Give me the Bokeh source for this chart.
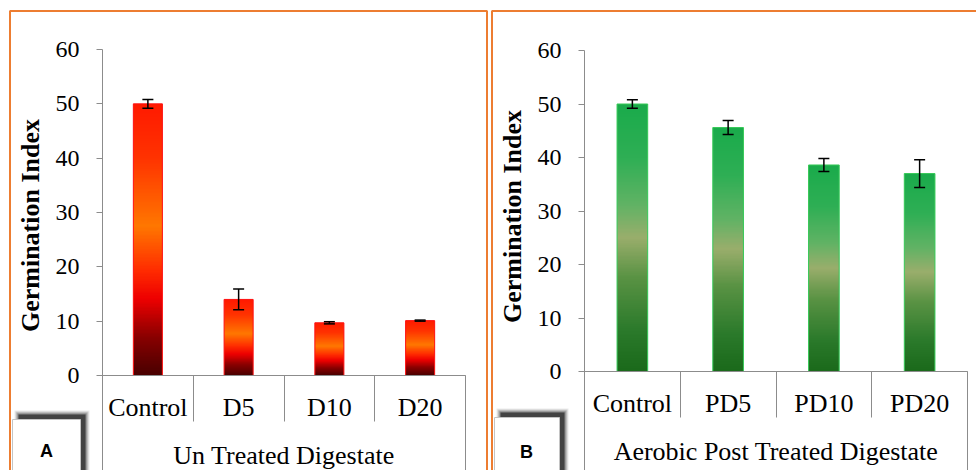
import numpy as np
from bokeh.plotting import figure
from bokeh.models import (ColumnDataSource, FixedTicker, Whisker, TeeHead,
                          BoxAnnotation, Label, LinearAxis, Range1d)
from bokeh.layouts import row
from bokeh.embed import file_html
from bokeh.resources import INLINE

# ---- data -------------------------------------------------------------
categories_a = ["Control", "D5", "D10", "D20"]
gi_a = [50.0, 14.0, 9.7, 10.1]
err_a = [0.8, 1.9, 0.2, 0.1]
group_a = "Un Treated Digestate"

categories_b = ["Control", "PD5", "PD10", "PD20"]
gi_b = [50.0, 45.6, 38.6, 37.0]
err_b = [0.8, 1.3, 1.2, 2.6]
group_b = "Aerobic Post Treated Digestate"

y_ticks = [0, 10, 20, 30, 40, 50, 60]
y_title = "Germination Index"

# ---- styling ------------------------------------------------------------
SERIF = "Liberation Serif"
AXIS_GREY = "#8c8c8c"
ORANGE = "#ED7D31"
BAR_WIDTH = 0.32
SEP_LEN = 46      # separator length below the category axis
HEIGHT = 470

RED_STOPS = [(0.0, "#ff1a00"), (0.2, "#ff3300"), (0.45, "#ff7800"),
             (0.62, "#ff2a00"), (0.72, "#ee0000"), (0.86, "#8a0000"),
             (1.0, "#4a0000")]
GREEN_STOPS = [(0.0, "#1aab4b"), (0.2, "#2faf55"), (0.38, "#62b365"),
               (0.5, "#9aae6c"), (0.65, "#5a9344"), (0.85, "#2b7a2b"),
               (1.0, "#1b6a1b")]


def gradient_image(stops, n=200):
    """Vertical colour ramp as an (n, 1) RGBA image, row 0 at the bottom."""
    pos = np.array([s[0] for s in stops])
    rgb = np.array([[int(h[i:i + 2], 16) for i in (1, 3, 5)] for _, h in stops], float)
    frac_from_top = np.linspace(1.0, 0.0, n)
    img = np.empty((n, 1), dtype=np.uint32)
    view = img.view(dtype=np.uint8).reshape((n, 1, 4))
    for c in range(3):
        view[:, 0, c] = np.interp(frac_from_top, pos, rgb[:, c]).astype(np.uint8)
    view[:, 0, 3] = 255
    return img


def screen_box(left, right, top, bottom, **kw):
    """Box given in canvas pixels (y downwards), drawn in frame screen units."""
    return BoxAnnotation(left=left, right=right, top=HEIGHT - top, bottom=HEIGHT - bottom,
                         left_units="screen", right_units="screen",
                         top_units="screen", bottom_units="screen", **kw)


def panel(cats, vals, errs, group, stops, edge_color, width,
          plot_l, plot_r, plot_t, plot_b, title_low, frame_lr, tag, tag_box, tag_xy):
    n = len(cats)
    # the frame fills the whole canvas; ranges are set so that the category
    # span [0, n] and value span [0, 60] land on the plot rectangle
    sx = (plot_r - plot_l) / n
    sy = (plot_b - plot_t) / 60.0
    x_range = Range1d(-plot_l / sx, n + (width - plot_r) / sx)
    y_range = Range1d(-(HEIGHT - plot_b) / sy, 60 + plot_t / sy)
    p = figure(width=width, height=HEIGHT, output_backend="svg",
               toolbar_location=None, x_range=x_range, y_range=y_range,
               min_border=0)
    p.outline_line_color = None
    p.xgrid.grid_line_color = None
    p.ygrid.grid_line_color = None

    centers = [i + 0.5 for i in range(n)]
    upper = [v + e for v, e in zip(vals, errs)]
    lower = [v - e for v, e in zip(vals, errs)]

    img = gradient_image(stops)
    p.image_rgba(image=[img] * n, x=[c - BAR_WIDTH / 2 for c in centers], y=[0] * n,
                 dw=[BAR_WIDTH] * n, dh=vals)
    p.vbar(x=centers, top=vals, bottom=0, width=BAR_WIDTH, fill_color=None,
           line_color=edge_color, line_width=1)

    src = ColumnDataSource(dict(x=centers, upper=upper, lower=lower))
    p.add_layout(Whisker(source=src, base="x", upper="upper", lower="lower",
                         level="annotation", line_color="black", line_width=1.5,
                         upper_head=TeeHead(size=11, line_color="black", line_width=1.5),
                         lower_head=TeeHead(size=11, line_color="black", line_width=1.5)))

    ya = p.yaxis[0]
    ya.fixed_location = 0
    ya.bounds = (title_low, 60)
    ya.ticker = FixedTicker(ticks=y_ticks)
    ya.axis_line_color = AXIS_GREY
    ya.major_tick_line_color = AXIS_GREY
    ya.major_tick_out = 6
    ya.major_tick_in = 0
    ya.minor_tick_line_color = None
    ya.major_label_text_font = SERIF
    ya.major_label_text_font_size = "24px"
    ya.major_label_text_color = "black"
    ya.major_label_standoff = 17
    ya.axis_label = y_title
    ya.axis_label_text_font = SERIF
    ya.axis_label_text_font_style = "bold"
    ya.axis_label_text_font_size = "26px"
    ya.axis_label_text_color = "black"
    ya.axis_label_standoff = 8

    xa = p.xaxis[0]
    xa.fixed_location = 0
    xa.bounds = (0, n)
    xa.ticker = FixedTicker(ticks=centers, minor_ticks=list(range(n + 1)))
    xa.major_label_overrides = {c: name for c, name in zip(centers, cats)}
    xa.axis_line_color = AXIS_GREY
    xa.major_tick_line_color = None
    xa.major_tick_out = 0
    xa.major_tick_in = 0
    xa.minor_tick_line_color = AXIS_GREY
    xa.minor_tick_out = SEP_LEN
    xa.minor_tick_in = 0
    xa.major_label_text_font = SERIF
    xa.major_label_text_font_size = "26px"
    xa.major_label_text_color = "black"
    xa.major_label_standoff = 17 - SEP_LEN

    # group level: outer boundary lines down to the bottom and the group name
    outer = HEIGHT - plot_b + 10
    ga = LinearAxis(fixed_location=0, bounds=(0, n),
                    ticker=FixedTicker(ticks=[], minor_ticks=[0, n]),
                    axis_line_color=None, major_tick_line_color=None,
                    major_tick_out=0, major_tick_in=0, major_label_standoff=0,
                    minor_tick_line_color=AXIS_GREY, minor_tick_out=outer, minor_tick_in=0,
                    axis_label=group, axis_label_text_font=SERIF,
                    axis_label_text_font_size="26px", axis_label_text_color="black",
                    axis_label_text_font_style="normal", axis_label_standoff=65 - outer)
    p.add_layout(ga, "below")

    # orange panel frame
    fl, fr = frame_lr
    p.add_layout(screen_box(fl, fr, 10.5, HEIGHT + 40, fill_color=None,
                            line_color=ORANGE, line_alpha=1.0, line_width=2))

    # panel tag with a soft dark shadow towards the upper right
    tl, tr, tt = tag_box
    for grow, alpha in [(4, 0.08), (3, 0.12), (2, 0.16), (1, 0.22), (0, 0.5)]:
        p.add_layout(screen_box(tl + 6 - grow, tr + 5 + grow, tt - 5 - grow, HEIGHT + 20,
                                fill_color="black", fill_alpha=alpha, line_color=None))
    p.add_layout(screen_box(tl, tr, tt, HEIGHT + 20, fill_color="white", fill_alpha=1.0,
                            line_color="#c4c4c4", line_alpha=1.0, line_width=1))
    p.add_layout(Label(x=tag_xy[0], y=HEIGHT - tag_xy[1], x_units="screen", y_units="screen",
                       text=tag, text_font="Liberation Sans", text_font_style="bold",
                       text_font_size="18px", text_color="black",
                       text_align="center", text_baseline="alphabetic"))
    return p


pa = panel(categories_a, gi_a, err_a, group_a, RED_STOPS, "#ff1010", 489,
           102, 465, 49, 375, -4.8, (9.5, 486.5), "A", (12, 80, 419), (46, 450))
pb = panel(categories_b, gi_b, err_b, group_b, GREEN_STOPS, "#36c957", 487,
           95, 478, 50, 371, -2.0, (2.5, 600), "B", (5, 70, 417), (37, 451))

layout = row(pa, pb)
open("out.html", "w").write(file_html(layout, INLINE))
